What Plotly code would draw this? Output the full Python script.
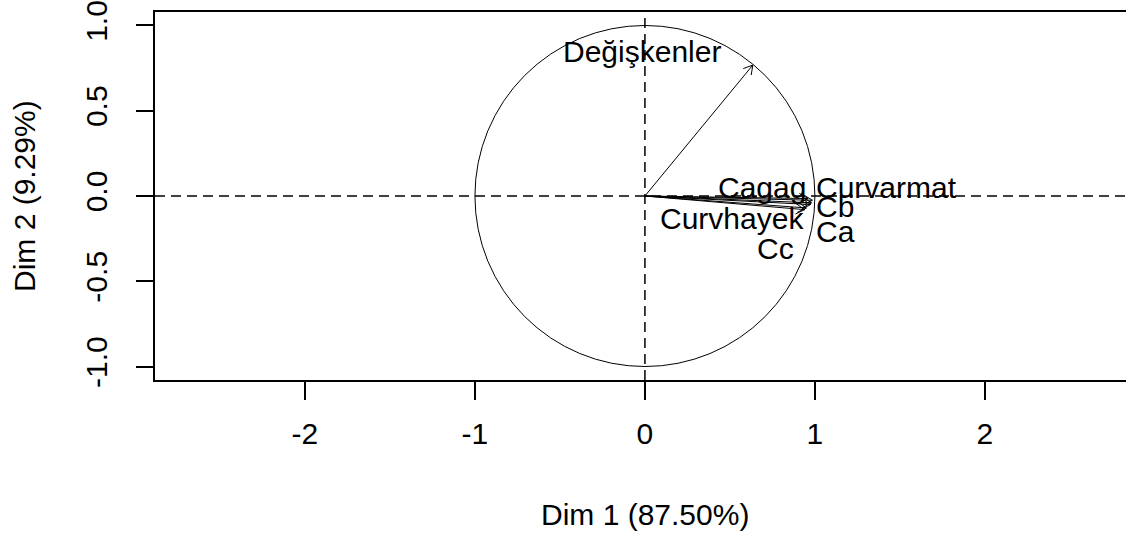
import math
import plotly.graph_objects as go

# Variable coordinates on the first two PCA dimensions
variables = ["Değişkenler", "Cagag", "Curvarmat", "Cb", "Ca", "Curvhayek", "Cc"]
dim1 = [0.635, 0.96, 0.985, 0.98, 0.975, 0.95, 0.94]
dim2 = [0.768, -0.015, -0.025, -0.04, -0.05, -0.07, -0.08]

# Label anchor points (shifted apart so the names do not overlap)
label_x = [-0.018, 0.691, 1.424, 1.118, 1.124, 0.515, 0.771]
label_y = [0.848, 0.05, 0.05, -0.059, -0.211, -0.129, -0.305]

x_ticks = [-2, -1, 0, 1, 2]
x_tick_text = ["-2", "-1", "0", "1", "2"]
y_ticks = [-1, -0.5, 0, 0.5, 1]
y_tick_text = ["-1.0", "-0.5", "0.0", "0.5", "1.0"]
x_title = "Dim 1 (87.50%)"
y_title = "Dim 2 (9.29%)"

FONT = "Liberation Sans, Arial, sans-serif"
HEAD = 0.06  # arrowhead length in axis units
HEAD_ANGLE = math.radians(30)

fig = go.Figure()

# Arrow shafts from the origin
sx, sy = [], []
hx, hy = [], []
for x, y in zip(dim1, dim2):
    sx += [0, x, None]
    sy += [0, y, None]
    th = math.atan2(y, x)
    for s in (1, -1):
        a = th + s * HEAD_ANGLE
        hx += [x - HEAD * math.cos(a), x, None]
        hy += [y - HEAD * math.sin(a), y, None]

fig.add_trace(go.Scatter(x=sx, y=sy, mode="lines",
                         line=dict(color="black", width=1),
                         hoverinfo="skip", showlegend=False))
fig.add_trace(go.Scatter(x=hx, y=hy, mode="lines",
                         line=dict(color="black", width=1),
                         hoverinfo="skip", showlegend=False))

# Variable names
for name, lx, ly in zip(variables, label_x, label_y):
    fig.add_annotation(x=lx, y=ly, xref="x", yref="y", text=name,
                       showarrow=False, xanchor="center", yanchor="middle",
                       font=dict(family=FONT, size=30, color="black"))

# Correlation circle and reference lines
fig.add_shape(type="circle", xref="x", yref="y", x0=-1, y0=-1, x1=1, y1=1,
              line=dict(color="black", width=1))
fig.add_shape(type="line", xref="x", yref="paper", x0=0, x1=0, y0=0, y1=1,
              line=dict(color="black", width=1.5, dash="10px,6px"))
fig.add_shape(type="line", xref="paper", yref="y", x0=0, x1=1, y0=0, y1=0,
              line=dict(color="black", width=1.5, dash="10px,6px"))

# Axis titles
fig.add_annotation(x=0, y=0, xref="x", yref="paper", yshift=-134,
                   text=x_title, showarrow=False, xanchor="center", yanchor="middle",
                   font=dict(family=FONT, size=30, color="black"))
fig.add_annotation(x=0, y=0, xref="paper", yref="y", xshift=-131,
                   text=y_title, showarrow=False, textangle=-90,
                   xanchor="center", yanchor="middle",
                   font=dict(family=FONT, size=30, color="black"))

fig.update_layout(
    width=1126, height=541,
    margin=dict(l=155, r=0, t=12, b=161),
    paper_bgcolor="white", plot_bgcolor="white",
    font=dict(family=FONT, color="black"),
    xaxis=dict(range=[-2.882, 2.83], tickvals=x_ticks, ticktext=x_tick_text,
               showgrid=False, zeroline=False, showline=True, mirror=True,
               linecolor="black", linewidth=1.8, ticks="outside", ticklen=18,
               tickwidth=1.8, tickcolor="black", ticklabelstandoff=8,
               tickfont=dict(family=FONT, size=30, color="black")),
    yaxis=dict(range=[-1.079, 1.079], tickvals=y_ticks, ticktext=y_tick_text,
               showgrid=False, zeroline=False, showline=True, mirror=False,
               linecolor="black", linewidth=1.8, ticks="outside", ticklen=17,
               tickwidth=1.8, tickcolor="black", tickangle=-90,
               ticklabelstandoff=17,
               tickfont=dict(family=FONT, size=30, color="black")),
)

fig.write_html("out.html")
